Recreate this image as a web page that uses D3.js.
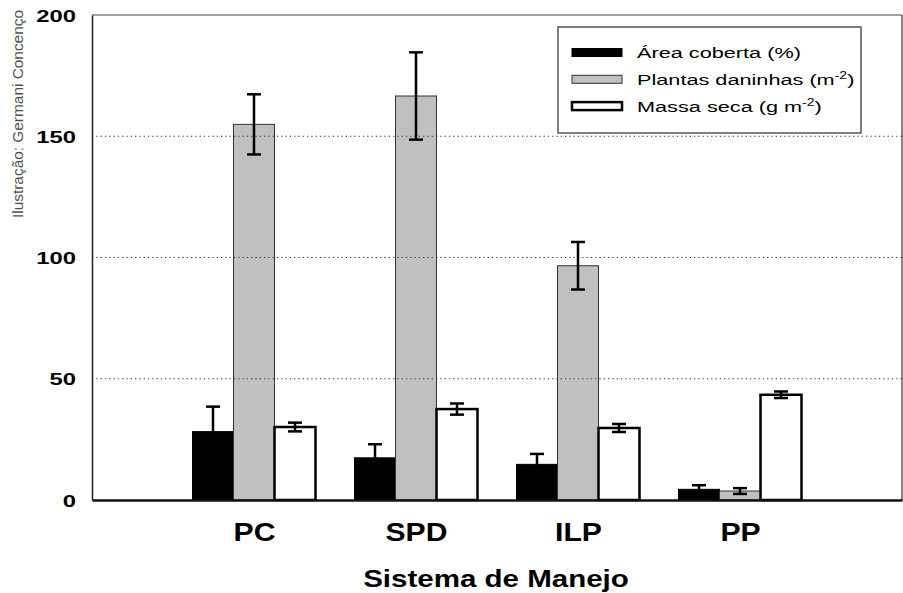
<!DOCTYPE html>
<html>
<head>
<meta charset="utf-8">
<script src="https://cdn.jsdelivr.net/npm/d3@7"></script>
<style>
  body { margin: 0; background: #fff; }
  text { font-family: "Liberation Sans", Arial, sans-serif; }
</style>
</head>
<body>
<div id="wrapper"></div>
<script>
// data
const categories = ["PC", "SPD", "ILP", "PP"];
const seriesNames = ["Área coberta (%)", "Plantas daninhas (m-2)", "Massa seca (g m-2)"];
const areaCoberta = [28.2, 17.4, 14.7, 4.4];
const areaCobertaErr = [10.3, 5.6, 4.3, 1.7];
const plantasDaninhas = [154.9, 166.6, 96.6, 3.7];
const plantasDaninhasErr = [12.4, 18.0, 9.8, 1.2];
const massaSeca = [30.1, 37.5, 29.7, 43.4];
const massaSecaErr = [1.8, 2.3, 1.65, 1.35];
const yTicks = [0, 50, 100, 150, 200];
const gridTicks = [50, 100, 150];

function buildPlot() {
    const width = 903, height = 593;
    const plot = { left: 92, right: 902, top: 15, bottom: 500 };
    const sx = 1.4; // the original figure is stretched sideways

    const series = [
        { name: "area", values: areaCoberta, err: areaCobertaErr, fill: "#000", stroke: "#000", sw: 1 },
        { name: "plantas", values: plantasDaninhas, err: plantasDaninhasErr, fill: "#c0c0c0", stroke: "#333", sw: 1 },
        { name: "massa", values: massaSeca, err: massaSecaErr, fill: "#fff", stroke: "#000", sw: 2.5 }
    ];

    const svg = d3.select("#wrapper").append("svg")
        .attr("width", width)
        .attr("height", height);

    const yScaler = d3.scaleLinear().domain([0, 200]).range([plot.bottom, plot.top]);
    const xScaler = d3.scaleLinear().domain([0, 5]).range([plot.left, plot.right]);
    const subScaler = d3.scaleBand().domain(series.map(s => s.name)).range([-61.5, 61.5]);

    // frame
    svg.append("line").attr("x1", plot.left).attr("x2", plot.right)
        .attr("y1", plot.top).attr("y2", plot.top)
        .attr("stroke", "#444").attr("stroke-width", 1.2);
    svg.append("line").attr("x1", plot.right).attr("x2", plot.right)
        .attr("y1", plot.top).attr("y2", plot.bottom)
        .attr("stroke", "#333").attr("stroke-width", 1.2);

    // bars
    series.forEach(s => {
        const g = svg.append("g");
        g.selectAll("rect").data(s.values).join("rect")
            .attr("x", (d, i) => xScaler(i + 1) + subScaler(s.name))
            .attr("width", subScaler.bandwidth())
            .attr("y", d => yScaler(d))
            .attr("height", d => yScaler(0) - yScaler(d))
            .attr("fill", s.fill)
            .attr("stroke", s.stroke)
            .attr("stroke-width", s.sw);
    });

    // gridlines on top of bars
    svg.append("g").selectAll("line").data(gridTicks).join("line")
        .attr("x1", plot.left).attr("x2", plot.right)
        .attr("y1", d => yScaler(d)).attr("y2", d => yScaler(d))
        .attr("stroke", "#333").attr("stroke-width", 1.2)
        .attr("stroke-dasharray", "1.3,3");

    // error bars
    series.forEach(s => {
        const g = svg.append("g").attr("stroke", "#000").attr("stroke-width", 2.5);
        s.values.forEach((v, i) => {
            const cx = xScaler(i + 1) + subScaler(s.name) + subScaler.bandwidth() / 2;
            const hi = yScaler(v + s.err[i]), lo = yScaler(v - s.err[i]);
            g.append("line").attr("x1", cx).attr("x2", cx).attr("y1", hi).attr("y2", lo);
            g.append("line").attr("x1", cx - 7).attr("x2", cx + 7).attr("y1", hi).attr("y2", hi);
            g.append("line").attr("x1", cx - 7).attr("x2", cx + 7).attr("y1", lo).attr("y2", lo);
        });
    });

    // y axis
    const yAxis = svg.append("g")
        .attr("transform", `translate(${plot.left},0)`)
        .call(d3.axisLeft(yScaler).tickValues(yTicks).tickSize(0).tickFormat(d3.format("d")));
    yAxis.select(".domain").attr("stroke", "#222").attr("stroke-width", 1.5);
    yAxis.selectAll("text")
        .attr("x", null).attr("dy", "0.36em")
        .attr("transform", `translate(-16,0) scale(${sx},1)`)
        .attr("fill", "#000")
        .style("font-size", "17px").style("font-weight", "bold")
        .style("font-family", "Liberation Sans, Arial, sans-serif");

    // x axis
    const xAxis = svg.append("g")
        .attr("transform", `translate(0,${plot.bottom})`)
        .call(d3.axisBottom(xScaler).tickValues([1, 2, 3, 4]).tickSize(0)
            .tickFormat(d => categories[d - 1]));
    xAxis.select(".domain").attr("stroke", "#111").attr("stroke-width", 2.5);
    xAxis.selectAll("text")
        .attr("y", null).attr("dy", null)
        .attr("transform", "translate(0,41) scale(1.16,1)")
        .attr("fill", "#000")
        .style("font-size", "26px").style("font-weight", "bold")
        .style("font-family", "Liberation Sans, Arial, sans-serif");

    // axis title
    svg.append("text")
        .attr("transform", `translate(${(plot.left + plot.right) / 2 - 1},587) scale(1.23,1)`)
        .attr("text-anchor", "middle")
        .style("font-size", "24px").style("font-weight", "bold")
        .text("Sistema de Manejo");

    // credit
    svg.append("text")
        .attr("transform", "translate(23,114) rotate(-90)")
        .attr("text-anchor", "middle")
        .attr("fill", "#505050")
        .attr("textLength", 208).attr("lengthAdjust", "spacingAndGlyphs")
        .style("font-size", "14px")
        .text("Ilustração: Germani Concenço");

    // legend
    const legend = svg.append("g");
    legend.append("rect")
        .attr("x", 558).attr("y", 27).attr("width", 303).attr("height", 106)
        .attr("fill", "#fff").attr("stroke", "#555").attr("stroke-width", 1.5);
    series.forEach((s, i) => {
        const cy = 52.5 + i * 26.8;
        legend.append("rect")
            .attr("x", 572).attr("y", cy - 4).attr("width", 50).attr("height", 8)
            .attr("fill", s.fill).attr("stroke", s.stroke).attr("stroke-width", s.sw);
        const t = legend.append("text")
            .attr("transform", `translate(637,${cy + 5.5}) scale(${sx},1)`)
            .style("font-size", "15.5px");
        const label = seriesNames[i];
        const m = label.match(/^(.*?)-2\)$/);
        if (m) {
            t.append("tspan").text(m[1]);
            t.append("tspan").attr("dy", -6)
                .style("font-size", "10px").text("-2");
            t.append("tspan").attr("dy", 6).text(")");
        } else {
            t.text(label);
        }
    });
}

buildPlot();
</script>
</body>
</html>
